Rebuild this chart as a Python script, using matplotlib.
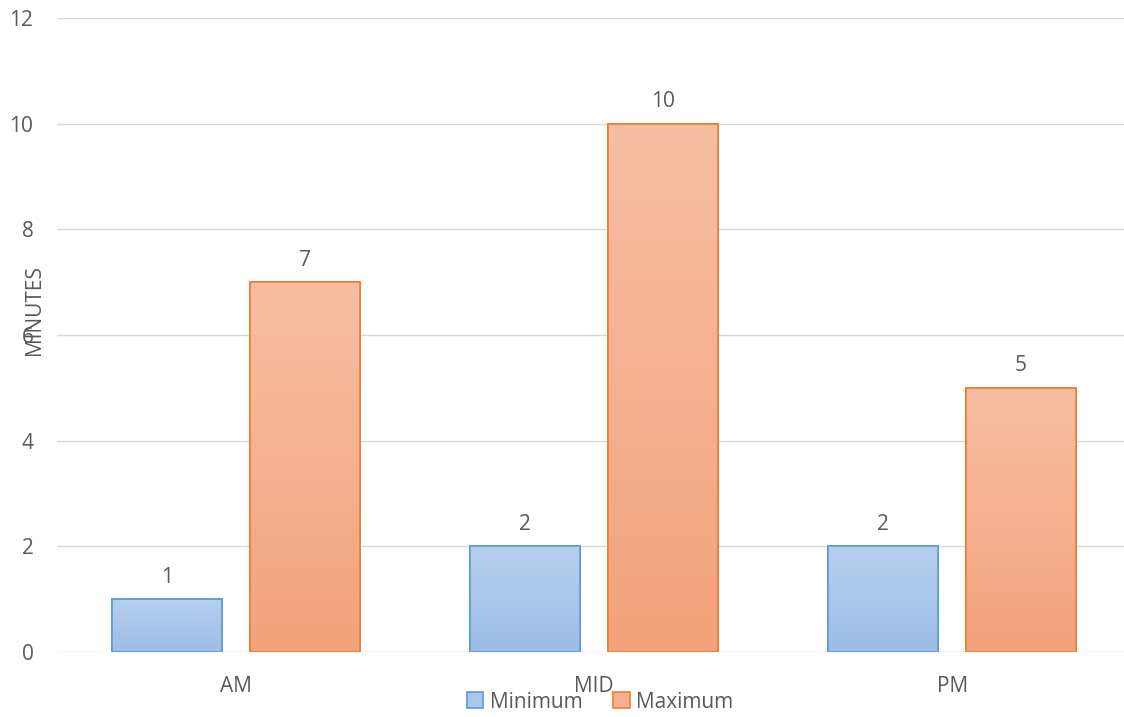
import numpy as np
import matplotlib.pyplot as plt
from matplotlib.colors import LinearSegmentedColormap

categories = ['AM', 'MID', 'PM']
minimum = [1, 2, 2]
maximum = [7, 10, 5]
series_names = ['Minimum', 'Maximum']

plt.rcParams['font.family'] = ['Open Sans', 'DejaVu Sans']
gray = '#595959'

fig = plt.figure(figsize=(11.24, 7.17), dpi=100)
ax = fig.add_axes([57 / 1124, 65 / 717, 1 - 57 / 1124, (652 - 18) / 717])

x = np.arange(len(categories))
w = 0.307
off = 0.192

blue_cm = LinearSegmentedColormap.from_list('b', ['#9cbde7', '#b7cfee'])
orange_cm = LinearSegmentedColormap.from_list('o', ['#f4a27b', '#f7bea3'])

grad = np.linspace(0, 1, 256).reshape(-1, 1)

def grad_bars(xs, vals, face, edge, cmap, label):
    bars = ax.bar(xs, vals, w, facecolor=face, edgecolor=edge, linewidth=1.2,
                  label=label, zorder=3)
    for b in bars:
        x0, y0 = b.get_x(), b.get_y()
        h = b.get_height()
        im = ax.imshow(grad, cmap=cmap, aspect='auto', origin='lower',
                       extent=[x0, x0 + w, y0, y0 + h], zorder=3.5)
        im.set_clip_path(b)
        # redraw outline on top
        ax.add_patch(plt.Rectangle((x0, y0), w, h, fill=False,
                                   edgecolor=edge, linewidth=1.2, zorder=4))
        ax.text(x0 + w / 2, y0 + h + 0.22, str(int(h)), ha='center',
                va='bottom', fontsize=15, color=gray)
    return bars

grad_bars(x - off, minimum, '#a9c6eb', '#5b9bd5', blue_cm, series_names[0])
grad_bars(x + off, maximum, '#f5b08f', '#ed7d31', orange_cm, series_names[1])

ax.set_xlim(-0.5, 2.48)
ax.set_ylim(0, 12)
ax.set_yticks(range(0, 13, 2))
ax.set_xticks(x)
ax.set_xticklabels(categories)
ax.grid(axis='y', color='#d9d9d9', linewidth=1, zorder=0)
ax.set_axisbelow(True)
for s in ax.spines.values():
    s.set_visible(False)
ax.tick_params(axis='both', length=0, labelsize=15, labelcolor=gray)
ax.tick_params(axis='y', pad=17)
ax.tick_params(axis='x', pad=17)

ax.set_ylabel('MINUTES', fontsize=15, color=gray)
ax.yaxis.set_label_coords(-0.011, 0.54)

leg = ax.legend(loc='center', bbox_to_anchor=(0.509, -0.079), ncol=2,
                frameon=False, fontsize=15, handlelength=0.8, handleheight=0.8,
                handletextpad=0.3, columnspacing=1.5, labelcolor=gray,
                borderpad=0)

fig.savefig('out.png', dpi=100)
